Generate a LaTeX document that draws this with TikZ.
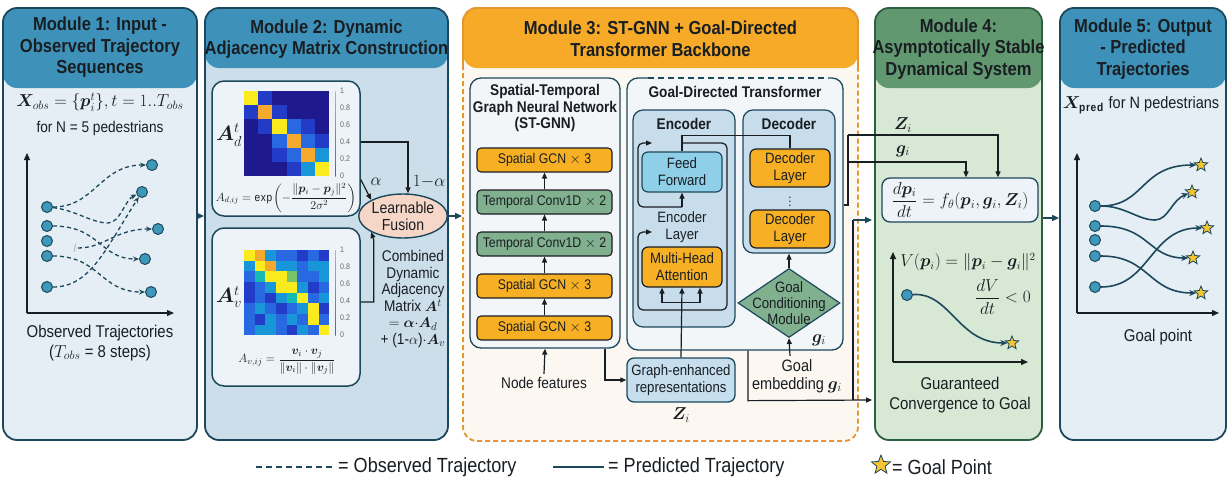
\documentclass[tikz,border=0pt]{standalone}
\usepackage{amsmath,bm}
\usepackage{fontspec}
\setmainfont{Liberation Sans}[FakeStretch=0.88]
\usetikzlibrary{shapes.geometric,arrows.meta,calc}
\definecolor{dk}{RGB}{28,72,92}
\definecolor{txt}{RGB}{25,30,35}
\definecolor{hblue}{RGB}{62,146,186}
\definecolor{bbody}{RGB}{229,238,245}
\definecolor{btwo}{RGB}{203,222,234}
\definecolor{horange}{RGB}{246,170,40}
\definecolor{obody}{RGB}{252,247,240}
\definecolor{oborder}{RGB}{228,150,50}
\definecolor{hgreen}{RGB}{98,152,112}
\definecolor{gbody}{RGB}{215,232,213}
\definecolor{gborder}{RGB}{45,95,65}
\definecolor{blkorange}{RGB}{247,176,36}
\definecolor{blkgreen}{RGB}{128,176,142}
\definecolor{ffblue}{RGB}{143,207,232}
\definecolor{encblue}{RGB}{200,221,235}
\definecolor{gerblue}{RGB}{198,222,238}
\definecolor{panel}{RGB}{243,246,249}
\definecolor{dotc}{RGB}{62,152,185}
\definecolor{starc}{RGB}{246,196,50}
\definecolor{fusion}{RGB}{246,214,198}
\definecolor{whitebox}{RGB}{237,243,248}
\definecolor{h0}{RGB}{30,25,140}
\definecolor{h1}{RGB}{35,60,200}
\definecolor{h2}{RGB}{40,105,225}
\definecolor{h3}{RGB}{25,150,215}
\definecolor{h4}{RGB}{20,185,175}
\definecolor{h5}{RGB}{120,195,100}
\definecolor{h6}{RGB}{245,170,45}
\definecolor{h7}{RGB}{250,235,30}
\pgfdeclareverticalshading{parula}{5bp}{color(0bp)=(h0); color(12bp)=(h2); color(25bp)=(h3); color(37bp)=(h4); color(50bp)=(h5); color(62bp)=(h6); color(75bp)=(h7)}
\newcommand\mytitlefont{\bfseries\fontsize{18.8}{21.5}\selectfont}
\newcommand\mysubfont{\bfseries\fontsize{15.5}{16.5}\selectfont}
\newcommand\myblkfont{\fontsize{14}{16}\selectfont}
\newcommand\mytextfont{\fontsize{17}{20}\selectfont}
\tikzset{
  mod/.style={line width=1.8pt, rounded corners=14pt, inner sep=0pt},
  modhead/.style 2 args={path picture={\fill[#1] (path picture bounding box.north west) rectangle ([yshift=-#2pt]path picture bounding box.north east);}},
  ttl/.style={align=center, font=\mytitlefont, text=txt, inner sep=1pt},
  panelbox/.style={draw=dk, line width=1.3pt, rounded corners=11pt, fill=panel, inner sep=0pt},
  blk/.style={draw=txt, line width=1.1pt, rounded corners=4pt, minimum width=135pt, minimum height=24pt, inner sep=0pt, font=\myblkfont, align=center},
  orangeblk/.style={blk, fill=blkorange},
  greenblk/.style={blk, fill=blkgreen},
  arr/.style={-{Triangle[length=6pt,width=5pt]}, line width=1.2pt, draw=txt},
  tarr/.style={-{Triangle[length=7pt,width=6pt]}, line width=1.4pt, draw=dk},
  pln/.style={line width=1.2pt, draw=txt},
  dot/.style={circle, draw=dk, line width=1pt, fill=dotc, minimum size=11pt, inner sep=0pt},
  goalstar/.style={star, star points=5, star point ratio=2.3, minimum size=14pt, inner sep=0pt, fill=starc, draw=dk, line width=0.8pt},
  obs/.style={dk, line width=1.3pt, dash pattern=on 4pt off 3pt, -{Stealth[length=6pt,width=5pt]}},
  pred/.style={dk, line width=1.6pt, -{Stealth[length=7pt,width=6pt]}},
  axis/.style={txt, line width=1.3pt, -{Triangle[length=7pt,width=6pt]}},
}
\begin{document}
\begin{tikzpicture}[x=1pt,y=-1pt, font=\myblkfont, text=txt]
\useasboundingbox (0,0) rectangle (1229,479);
\fill[white] (0,0) rectangle (1229,479);

% ---------------- modules ----------------
\node[mod, draw=dk, fill=bbody, modhead={hblue}{80}, minimum width=194pt, minimum height=432pt] (m1) at (100,224) {};
\node[mod, draw=dk, fill=btwo, modhead={hblue}{60}, minimum width=243pt, minimum height=432pt] (m2) at (326.5,224) {};
\node[mod, draw=oborder, dash pattern=on 5pt off 3pt, fill=obody, modhead={horange}{60}, minimum width=395pt, minimum height=433pt] (m3) at (660.5,224.5) {};
\draw[oborder, line width=1.8pt, rounded corners=14pt] (463,68) -- (463,8) -- (858,8) -- (858,68);
\node[mod, draw=gborder, fill=gbody, modhead={hgreen}{80}, minimum width=167pt, minimum height=432pt] (m4) at (958.5,224) {};
\node[mod, draw=dk, fill=bbody, modhead={hblue}{80}, minimum width=166pt, minimum height=432pt] (m5) at (1143,224) {};

\node[ttl] (t1) at (100,47.5) {Module 1: Input -\\Observed Trajectory\\Sequences};
\node[ttl] (t2) at (326.5,39) {Module 2: Dynamic\\Adjacency Matrix Construction};
\node[ttl] (t3) at (660.5,39) {Module 3: ST-GNN + Goal-Directed\\Transformer Backbone};
\node[ttl] (t4) at (958.5,49) {Module 4:\\Asymptotically Stable\\Dynamical System};
\node[ttl] (t5) at (1143,49) {Module 5: Output\\- Predicted\\Trajectories};

% inter-module arrows
\draw[tarr] ($(m1.east)+(0,-8)$) -- ($(m2.west)+(0,-8)$);
\draw[tarr] ($(m4.east)+(0,-6)$) -- ($(m5.west)+(0,-6)$);

% ---------------- Module 1 ----------------
\node[font=\fontsize{18}{19}\selectfont, inner sep=1pt] (m1f) at (100,102) {$\bm{X}_{obs} = \{\bm{p}_i^t\}, t=1..T_{obs}$};
\node[font=\fontsize{15.5}{16}\selectfont, inner sep=1pt] (m1n) at (100,128) {for N = 5 pedestrians};
\coordinate (m1o) at (27,313);
\coordinate (m1y) at (27,153);
\coordinate (m1x) at (174,313);
\draw[axis] (m1o) -- (m1y);
\draw[axis] (m1o) -- (m1x);
\node[dot] (s1) at (47,207) {};
\node[dot] (s2) at (47,226) {};
\node[dot] (s3) at (47,241) {};
\node[dot] (s4) at (47,256) {};
\node[dot] (s5) at (47,287) {};
\node[dot] (e1) at (152,165) {};
\node[dot] (e2) at (142,192) {};
\node[dot] (e3) at (158,229) {};
\node[dot] (e4) at (145,259) {};
\node[dot] (e5) at (151,292) {};
\node[text=gray!60, font=\fontsize{12}{12}\selectfont, inner sep=1pt] (ii) at (75,248) {$\mathit{I}$};
\coordinate (dipa) at (108,223);
\draw[obs] (s1) .. controls (95,207) and (100,165) .. (e1);
\draw[obs] (s1) .. controls (75,210) and (92,223) .. (dipa) .. controls (120,223) and (125,200) .. (e2);
\draw[obs] (s5) .. controls (90,287) and (105,250) .. (e2);
\draw[obs] (ii) .. controls (105,248) and (115,229) .. (e3);
\draw[obs] (s2) .. controls (100,226) and (100,259) .. (e4);
\draw[obs] (s4) .. controls (100,256) and (100,292) .. (e5);
\node[align=center, font=\mytextfont] (m1c) at (100,343) {Observed Trajectories\\($T_{obs}$ = 8 steps)};

% ---------------- Module 2 ----------------
\node[draw=dk, line width=1.5pt, rounded corners=12pt, fill=whitebox, minimum width=148pt, minimum height=135pt] (adbox) at (286,148.5) {};
\node[draw=dk, line width=1.5pt, rounded corners=12pt, fill=whitebox, minimum width=148pt, minimum height=158pt] (avbox) at (286,307) {};
\foreach \rw [count=\r] in {{7,1,0,0,0,0},{1,6,1,0,0,0},{0,1,7,2,1,0},{0,0,2,6,2,1},{0,0,1,2,6,3},{0,0,0,1,3,7}} {
  \foreach \v [count=\c] in \rw {
    \fill[h\v] ({244+(\c-1)*14.2},{91+(\r-1)*14.2}) rectangle ++(14.2,14.2);
  }
}
\foreach \rw [count=\r] in {{7,6,3,2,2,1,2,1},{3,7,6,3,3,2,3,3},{2,4,7,7,5,2,2,3},{1,2,3,7,7,3,1,2},{1,2,1,3,4,7,2,3},{2,3,2,1,2,3,7,1},{2,1,3,2,3,2,7,2},{2,3,3,2,1,3,2,7}} {
  \foreach \v [count=\c] in \rw {
    \fill[h\v] ({244+(\c-1)*10.65},{250+(\r-1)*10.65}) rectangle ++(10.65,10.65);
  }
}
\shade[shading=parula] (333,91) rectangle (338,176);
\shade[shading=parula] (333,250) rectangle (338,335);
\foreach \l/\yy [count=\k] in {1/91,0.8/108,0.6/125,0.4/142,0.2/159,0/176} {
  \node[font=\fontsize{8}{8}\selectfont, anchor=west, text=gray!80!black, inner sep=1pt] (cba\k) at (339,\yy) {\l};
  \node[font=\fontsize{8}{8}\selectfont, anchor=west, text=gray!80!black, inner sep=1pt] (cbb\k) at (339,\yy+159) {\l};
}
\node[font=\fontsize{20}{20}\selectfont] (adlab) at (229,135) {$\bm{A}_d^t$};
\node[font=\fontsize{20}{20}\selectfont] (avlab) at (229,297) {$\bm{A}_v^t$};
\node[font=\fontsize{11.5}{12}\selectfont, inner sep=1pt] (adf) at (286,198) {$A_{d,ij} = \exp\!\left(-\dfrac{\|\bm{p}_i-\bm{p}_j\|^2}{2\sigma^2}\right)$};
\node[font=\fontsize{13}{13}\selectfont, inner sep=1pt] (avf) at (287,362) {$A_{v,ij} = \dfrac{\bm{v}_i\cdot\bm{v}_j}{\|\bm{v}_i\|\cdot\|\bm{v}_j\|}$};
\node[ellipse, draw=dk, line width=1.4pt, fill=fusion, minimum width=74pt, minimum height=44pt, inner sep=0pt, align=center, font=\fontsize{16}{17}\selectfont] (fus) at (403,216) {Learnable\\Fusion};
\draw[arr] ($(adbox.east)+(0,-6.5)$) -| ($(fus.north)+(5,0)$);
\draw[arr] ($(adbox.east)+(0,31)$) -- (fus.north west);
\draw[arr] ($(avbox.east)+(0,-5)$) -- ++(13,0) -- ++(0,-62) -- (fus.south west);
\node[font=\fontsize{17}{18}\selectfont] (alab) at (376,182) {$\alpha$};
\node[font=\fontsize{17}{18}\selectfont] (blab) at (429,182) {$1{-}\alpha$};
\node[align=center, font=\fontsize{15.5}{16.5}\selectfont] (comb) at (413,299) {Combined\\Dynamic\\Adjacency\\Matrix $\bm{A}^t$\\$=\bm{\alpha}{\cdot}\bm{A}_d$\\+ (1-$\alpha$)$\cdot\bm{A}_v$};
\draw[tarr] (fus.east) -- (m3.west |- fus.east);

% ---------------- Module 3 ----------------
\node[panelbox, minimum width=150pt, minimum height=270pt] (stg) at (545,213) {};
\node[align=center, font=\mysubfont] (stgt) at (545,108) {Spatial-Temporal\\Graph Neural Network\\(ST-GNN)};
\node[orangeblk] (b1) at (544.5,160) {Spatial GCN $\times$ 3};
\node[greenblk] (b2) at (544.5,202) {Temporal Conv1D $\times$ 2};
\node[greenblk] (b3) at (544.5,244) {Temporal Conv1D $\times$ 2};
\node[orangeblk] (b4) at (544.5,286) {Spatial GCN $\times$ 3};
\node[orangeblk] (b5) at (544.5,328) {Spatial GCN $\times$ 3};
\draw[arr] (b5) -- (b4);
\draw[arr] (b4) -- (b3);
\draw[arr] (b3) -- (b2);
\draw[arr] (b2) -- (b1);
\node[font=\fontsize{15.5}{17}\selectfont] (nf) at (544,383) {Node features};
\draw[arr] (nf.north) -- (stg.south);
\node[draw=dk, line width=1.3pt, rounded corners=7pt, fill=gerblue, minimum width=108pt, minimum height=44pt, inner sep=0pt, align=center, font=\fontsize{15}{17}\selectfont] (ger) at (681,380) {Graph-enhanced\\representations};
\node[font=\fontsize{18}{18}\selectfont] (zlab) at (681,415) {$\bm{Z}_i$};
\draw[arr] ($(stg.south)+(60,0)$) |- (ger.west);

\node[panelbox, minimum width=216pt, minimum height=272pt] (gdt) at (735,214) {};
\draw[panel, line width=2.4pt] (648,78) -- (828,78);
\draw[dk, line width=1.3pt, dash pattern=on 6pt off 4pt] (648,78) -- (828,78);
\node[font=\mysubfont] (gdtt) at (735,92) {Goal-Directed Transformer};
\node[draw=dk, line width=1.2pt, rounded corners=10pt, fill=encblue, minimum width=102pt, minimum height=217pt, inner sep=0pt] (enc) at (684,218.5) {};
\node[draw=dk, line width=1.2pt, rounded corners=10pt, fill=encblue, minimum width=92pt, minimum height=143pt, inner sep=0pt] (dec) at (789,181.5) {};
\node[font=\mysubfont] (enct) at (684,124) {Encoder};
\node[font=\mysubfont] (dect) at (789,124) {Decoder};
\node[draw=dk, line width=1.2pt, rounded corners=6pt, fill=ffblue, minimum width=80pt, minimum height=40pt, inner sep=0pt, align=center, font=\fontsize{15}{17}\selectfont] (ff) at (682,172) {Feed\\Forward};
\node[align=center, font=\fontsize{15}{17}\selectfont] (el) at (682,227.5) {Encoder\\Layer};
\node[draw=txt, line width=1.2pt, rounded corners=6pt, fill=blkorange, minimum width=80pt, minimum height=40pt, inner sep=0pt, align=center, font=\fontsize{15}{17}\selectfont] (mha) at (682,267) {Multi-Head\\Attention};
\node[draw=txt, line width=1.2pt, rounded corners=6pt, fill=blkorange, minimum width=80pt, minimum height=38pt, inner sep=0pt, align=center, font=\fontsize{15}{17}\selectfont] (dl1) at (790,168) {Decoder\\Layer};
\node[draw=txt, line width=1.2pt, rounded corners=6pt, fill=blkorange, minimum width=80pt, minimum height=38pt, inner sep=0pt, align=center, font=\fontsize{15}{17}\selectfont] (dl2) at (790,229) {Decoder\\Layer};
\node[font=\bfseries\fontsize{9}{9}\selectfont, inner sep=0pt] (vd) at (790,198.5) {$\vdots$};
% encoder residual frame
\draw[arr, rounded corners=5pt] (682,143) -- (727,143) -- (727,310) -- (638,310) -- (638,232) -- (652,232);
\draw[arr, rounded corners=5pt] (682,207) -- (638,207) -- (638,143) -- (652,143);
\draw[arr] (682,207) -- (ff.south);
\draw[pln] (ff.north) -- ++(0,-16) -| (dl1.north);
% MHA inputs
\draw[arr] (ger.north) -- (mha.south);
\draw[pln] ($(mha.south)+(-20,15)$) -- ($(mha.south)+(18,15)$);
\draw[arr] ($(mha.south)+(-20,15)$) -- ($(mha.south)+(-20,0)$);
\draw[arr] ($(mha.south)+(18,15)$) -- ($(mha.south)+(18,0)$);
% goal conditioning
\node[diamond, draw=dk, line width=1.2pt, fill=blkgreen, minimum width=102pt, minimum height=69pt, inner sep=0pt] (gcm) at (789,303) {};
\node[align=center, font=\fontsize{15}{16}\selectfont, inner sep=0pt] (gcmt) at (789,303) {Goal\\Conditioning\\Module};
\node[font=\fontsize{17}{17}\selectfont] (glab) at (819,340) {$\bm{g}_i$};
\draw[arr] (gcm.north) -- (dec.south);
\node[align=center, font=\fontsize{16.5}{18}\selectfont] (ge) at (797,376) {Goal\\embedding $\bm{g}_i$};
\draw[arr] ($(ge.north)+(-7,0)$) -- (gcm.south);

% connectors to Module 4
\node[draw=dk, line width=1.3pt, rounded corners=8pt, fill=whitebox, minimum width=156pt, minimum height=44pt, inner sep=0pt, font=\fontsize{17}{17}\selectfont] (fbox) at (960,200) {$\dfrac{d\bm{p}_i}{dt} = f_\theta(\bm{p}_i,\bm{g}_i,\bm{Z}_i)$};
\coordinate (jn) at (848,205);
\draw[pln] ($(gdt.east)+(0,-9)$) -- (jn) -- (848,135);
\draw[arr] (848,135) -| ($(fbox.north)+(38,0)$);
\draw[arr] (848,162) -| ($(fbox.north)+(6,0)$);
\node[font=\fontsize{17}{17}\selectfont] (zl4) at (903,125) {$\bm{Z}_i$};
\node[font=\fontsize{17}{17}\selectfont] (gl4) at (903,151) {$\bm{g}_i$};
\draw[arr] ($(gdt.south)+(13,0)$) -- ++(0,50) -- ($(m4.west)+(-2,176)$);
\draw[pln] (853,400) -- (853,220);
\draw[tarr] (853,220) -- ($(m4.west)+(-2,-4)$);

% ---------------- Module 4 ----------------
\coordinate (m4o) at (893,362);
\coordinate (m4y) at (893,252);
\coordinate (m4x) at (1028,362);
\draw[axis] (m4o) -- (m4y);
\draw[axis] (m4o) -- (m4x);
\node[font=\fontsize{16}{16}\selectfont, inner sep=1pt] (vf) at (968,262) {$V(\bm{p}_i) = \|\bm{p}_i-\bm{g}_i\|^2$};
\node[font=\fontsize{16}{16}\selectfont] (dvf) at (1003,297) {$\dfrac{dV}{dt} < 0$};
\node[dot] (cd) at (907,295) {};
\node[goalstar] (cs) at (1012,343) {};
\draw[pred] (cd) .. controls (950,292) and (958,343) .. (cs);
\node[align=center, font=\mytextfont] (gc) at (960,395) {Guaranteed\\Convergence to Goal};

% ---------------- Module 5 ----------------
\node[font=\fontsize{16.5}{17}\selectfont, inner sep=1pt] (xp) at (1141,105) {$\bm{X}_{\mathbf{pred}}$ for N pedestrians};
\coordinate (m5o) at (1077,313);
\coordinate (m5y) at (1077,153);
\coordinate (m5x) at (1219,313);
\draw[axis] (m5o) -- (m5y);
\draw[axis] (m5o) -- (m5x);
\node[dot] (q1) at (1095,206) {};
\node[dot] (q2) at (1095,226) {};
\node[dot] (q3) at (1095,240) {};
\node[dot] (q4) at (1095,256) {};
\node[dot] (q5) at (1095,287) {};
\node[goalstar] (g1) at (1201,165) {};
\node[goalstar] (g2) at (1192,192) {};
\node[goalstar] (g3) at (1207,228) {};
\node[goalstar] (g4) at (1193,258) {};
\node[goalstar] (g5) at (1201,293) {};
\coordinate (dipb) at (1155,220);
\draw[pred] (q1) .. controls (1145,206) and (1140,165) .. (g1);
\draw[pred] (q1) .. controls (1125,206) and (1138,220) .. (dipb) .. controls (1168,220) and (1172,200) .. (g2);
\draw[pred] (q2) .. controls (1150,226) and (1148,258) .. (g4);
\draw[pred] (q4) .. controls (1150,256) and (1148,293) .. (g5);
\draw[pred] (q5) .. controls (1150,287) and (1150,228) .. (g3);
\node[font=\mytextfont] (gp) at (1158,337) {Goal point};

% ---------------- legend ----------------
\coordinate (la) at (256,467);
\coordinate (lb) at (334,467);
\coordinate (lc) at (553,467);
\coordinate (ld) at (604,467);
\draw[dk, line width=1.6pt, dash pattern=on 6pt off 4pt] (la) -- (lb);
\node[anchor=west, font=\fontsize{20.5}{22}\selectfont, inner sep=2pt] (lt1) at (336,467) {= Observed Trajectory};
\draw[dk, line width=2.2pt] (lc) -- (ld);
\node[anchor=west, font=\fontsize{20.5}{22}\selectfont, inner sep=2pt] (lt2) at (606,467) {= Predicted Trajectory};
\node[goalstar, minimum size=20pt] (ls) at (881,465) {};
\node[anchor=west, font=\fontsize{20.5}{22}\selectfont, inner sep=2pt] (lt3) at (890,467) {= Goal Point};
\end{tikzpicture}
\end{document}
